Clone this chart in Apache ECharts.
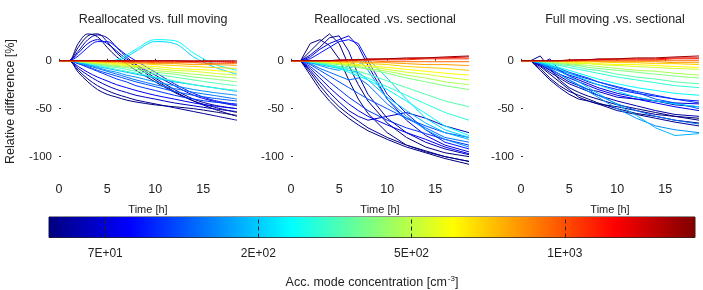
<!DOCTYPE html>
<html>
<head>
<meta charset="utf-8">
<script src="https://cdn.jsdelivr.net/npm/echarts@6/dist/echarts.min.js"></script>
<style>
  html, body { margin: 0; padding: 0; background: #fff; }
  #chart { width: 703px; height: 290px; }
</style>
</head>
<body>
<div id="chart"></div>
<script>
// time axis of every run [h]
var times = [0, 1, 2, 3, 4, 5, 6, 7, 8, 10, 12, 14, 16, 18.5];
// accumulation mode concentration of each run [cm^-3], low -> high
var conc = [38, 42, 47, 52, 58, 64, 71, 80, 90, 100, 115, 130, 150, 175,
            200, 235, 280, 330, 400, 480, 570, 680, 820, 1000, 1250, 1600, 2100, 2900];

var panelTitles = ['Reallocated vs. full moving', 'Reallocated .vs. sectional', 'Full moving .vs. sectional'];
var yTicks = [-100, -50, 0];
var xTicks = [0, 5, 10, 15];

// colorbar ticks (concentration) shown as 7E+01 ...
var cbarTicks = [70, 190, 516, 1403];
var cbarRange = [48.5, 3280];

// relative difference [%], one row per run
var reallocVsFull = [
  [0, 0, 14, 26, 28, 20, 8, 0, -6, -20, -32, -42, -50, -58],
  [0, 0, -12, -22, -30, -35, -38, -41, -43, -46, -48, -50, -53, -57],
  [0, 0, 18, 28, 25, 14, 4, -3, -10, -22, -33, -42, -48, -54],
  [0, 0, -10, -19, -26, -31, -35, -38, -41, -45, -49, -53, -57, -62],
  [0, 0, 10, 22, 27, 24, 14, 4, -4, -18, -30, -40, -46, -50],
  [0, 0, -8, -15, -21, -26, -30, -33, -36, -40, -44, -47, -50, -53],
  [0, 0, 8, 18, 22, 18, 10, 2, -4, -15, -26, -36, -42, -47],
  [0, 0, -6, -12, -17, -21, -25, -28, -31, -36, -40, -44, -47, -50],
  [0, 0, 5, 14, 20, 20, 14, 6, 0, -12, -24, -34, -41, -46],
  [0, 0, -3, -7, -11, -15, -19, -22, -26, -31, -36, -40, -43, -45],
  [0, 0, -3, -6, -10, -13, -16, -19, -22, -27, -32, -36, -39, -42],
  [0, 0, -2, -5, -8, -11, -14, -17, -20, -25, -29, -33, -36, -40],
  [0, 0, -2, -4, -7, -10, -12, -15, -17, -22, -26, -30, -33, -36],
  [0, 0, -2, -4, -6, -8, -10, -12, -14, -18, -22, -25, -28, -32],
  [0, 0, 0, 0, 0, 0, 0, 4, 10, 20, 18, 4, -6, -14],
  [0, 0, 0, 0, 0, 0, 1, 6, 12, 22, 21, 8, -3, -10],
  [0, 0, -1, -3, -5, -7, -9, -11, -13, -17, -21, -25, -28, -31],
  [0, 0, -1, -2, -4, -6, -7, -9, -11, -14, -17, -20, -23, -26],
  [0, 0, -1, -2, -3, -5, -6, -7, -9, -12, -14, -17, -19, -22],
  [0, 0, -1, -2, -3, -4, -5, -6, -7, -10, -12, -14, -16, -18],
  [0, 0, 0, -1, -2, -3, -4, -5, -6, -8, -10, -11, -13, -15],
  [0, 0, 0, -1, -2, -2, -3, -4, -5, -6, -8, -9, -10, -12],
  [0, 0, 0, -1, -1, -2, -2, -3, -3, -4, -5, -6, -7, -8],
  [0, 0, 0, 0, -1, -1, -1, -2, -2, -3, -3, -4, -4, -5],
  [0, 0, 0, 0, 0, -1, -1, -1, -1, -2, -2, -2, -3, -3],
  [0, 0, 0, 0, 0, 0, 0, -1, -1, -1, -1, -1, -1, -2],
  [0, 0, 0, 0, 0, 0, 0, 0, 0, 0, 0, -1, -1, -1],
  [0, 0, 0, 0, 0, 0, 0, 0, 0, 0, 0, 0, 0, 0]
];

var reallocVsSect = [
  [0, 0, 18, 22, 16, 2, -20, -40, -55, -75, -88, -95, -100, -105],
  [0, 0, -15, -30, -42, -52, -60, -67, -73, -82, -90, -96, -102, -108],
  [0, 0, 10, 20, 28, 18, -5, -25, -42, -65, -80, -90, -96, -100],
  [0, 0, -12, -26, -38, -48, -56, -63, -70, -80, -88, -94, -100, -105],
  [0, 0, 6, 14, 24, 26, 10, -15, -35, -60, -75, -85, -92, -98],
  [0, 0, -10, -22, -33, -43, -52, -58, -62, -58, -54, -60, -68, -75],
  [0, 0, 4, 12, 18, 22, 26, 15, -5, -40, -62, -78, -88, -95],
  [0, 0, -8, -18, -28, -37, -45, -52, -58, -67, -75, -82, -90, -97],
  [0, 0, 2, 8, 14, 20, 22, 18, 0, -35, -55, -72, -85, -92],
  [0, 0, -6, -14, -22, -30, -38, -45, -52, -62, -70, -76, -82, -88],
  [0, 0, -4, -10, -16, -22, -28, -34, -40, -50, -60, -68, -75, -80],
  [0, 0, -3, -8, -12, -16, -20, -18, -25, -45, -60, -70, -80, -85],
  [0, 0, -2, -5, -8, -10, -5, 2, -10, -40, -58, -72, -82, -90],
  [0, 0, -2, -4, -6, -8, -10, -12, -20, -38, -52, -65, -75, -82],
  [0, 0, -1, -3, -5, -6, -8, -4, 2, -18, -40, -60, -72, -80],
  [0, 0, -1, -3, -5, -8, -12, -16, -20, -30, -42, -55, -68, -78],
  [0, 0, -1, -3, -5, -7, -10, -14, -18, -27, -36, -45, -54, -62],
  [0, 0, -1, -2, -4, -6, -8, -11, -14, -21, -28, -35, -42, -48],
  [0, 0, -1, -2, -3, -4, -6, -7, -9, -13, -18, -22, -26, -30],
  [0, 0, 0, -1, -2, -3, -5, -6, -8, -11, -15, -18, -22, -25],
  [0, 0, 0, -1, -2, -3, -4, -5, -6, -9, -12, -14, -17, -20],
  [0, 0, 0, -1, -1, -2, -3, -4, -5, -7, -9, -11, -13, -15],
  [0, 0, 0, 0, -1, -1, -2, -2, -3, -4, -6, -7, -8, -10],
  [0, 0, 0, 0, 0, -1, -1, -1, -2, -2, -3, -4, -4, -5],
  [0, 0, 0, 0, 0, 0, 0, 0, 0, -1, -1, -1, -1, -1],
  [0, 0, 0, 0, 0, 0, 0, 1, 1, 1, 1, 2, 2, 2],
  [0, 0, 0, 0, 0, 0, 1, 1, 1, 2, 2, 3, 3, 4],
  [0, 0, 0, 0, 0, 1, 1, 1, 2, 2, 3, 3, 4, 5]
];

var fullVsSect = [
  [0, 0, -8, -18, -26, -32, -36, -40, -44, -50, -55, -58, -62, -65],
  [0, 0, 5, -8, -20, -28, -33, -37, -40, -46, -50, -54, -58, -60],
  [0, 0, -6, -14, -22, -30, -38, -42, -45, -48, -52, -56, -58, -62],
  [0, 0, -10, -20, -28, -35, -40, -42, -45, -52, -56, -60, -64, -68],
  [0, 0, -5, -12, -18, -24, -28, -32, -36, -42, -47, -52, -56, -58],
  [0, 0, -4, -10, -16, -22, -26, -30, -32, -38, -40, -42, -46, -48],
  [0, 0, -3, 2, -10, -16, -20, -24, -28, -34, -38, -42, -44, -45],
  [0, 0, -4, -9, -14, -18, -22, -26, -30, -36, -40, -44, -48, -52],
  [0, 0, -3, -7, -11, -15, -18, -22, -25, -30, -34, -37, -40, -42],
  [0, 0, -2, -6, -10, -13, -16, -19, -22, -27, -32, -36, -40, -44],
  [0, 0, -2, -5, -8, -12, -15, -18, -22, -28, -33, -40, -44, -50],
  [0, 0, -3, -8, -14, -20, -25, -30, -36, -45, -52, -58, -62, -66],
  [0, 0, -3, -8, -14, -20, -26, -32, -38, -50, -60, -68, -72, -75],
  [0, 0, -2, -6, -11, -16, -22, -28, -34, -46, -57, -70, -78, -76],
  [0, 0, -2, -5, -9, -13, -17, -21, -25, -32, -38, -42, -45, -48],
  [0, 0, -1, -4, -7, -10, -13, -16, -19, -24, -28, -31, -34, -36],
  [0, 0, -1, -3, -5, -7, -9, -11, -13, -17, -20, -23, -26, -28],
  [0, 0, -1, -2, -4, -5, -7, -9, -10, -14, -17, -19, -22, -24],
  [0, 0, -1, -2, -3, -4, -5, -7, -8, -10, -12, -14, -16, -18],
  [0, 0, 0, -1, -2, -3, -4, -5, -6, -8, -10, -11, -13, -15],
  [0, 0, 0, -1, -1, -2, -3, -3, -4, -5, -6, -7, -8, -9],
  [0, 0, 0, 0, -1, -1, -2, -2, -3, -4, -4, -5, -6, -7],
  [0, 0, 0, 0, 0, -1, -1, -1, -1, -2, -2, -3, -3, -4],
  [0, 0, 0, 0, 0, 0, 0, 0, -1, -1, -1, -1, -2, -2],
  [0, 0, 0, 0, 0, 0, 0, 0, 0, 0, 0, 0, 0, 0],
  [0, 0, 0, 0, 0, 0, 0, 1, 1, 1, 1, 1, 2, 2],
  [0, 0, 0, 0, 0, 0, 1, 1, 1, 2, 2, 2, 3, 3],
  [0, 0, 0, 0, 0, 1, 1, 1, 2, 2, 3, 3, 4, 5]
];

var panels = [reallocVsFull, reallocVsSect, fullVsSect];

// matlab jet colormap
function jet(f) {
  f = Math.max(0, Math.min(1, f));
  function c(v) { return Math.round(255 * Math.max(0, Math.min(1, v))); }
  var r = c(Math.min(4 * f - 1.5, -4 * f + 4.5));
  var g = c(Math.min(4 * f - 0.5, -4 * f + 3.5));
  var b = c(Math.min(4 * f + 0.5, -4 * f + 2.5));
  return 'rgb(' + r + ',' + g + ',' + b + ')';
}

var logMin = Math.log10(cbarRange[0]);
var logMax = Math.log10(cbarRange[1]);
function concColor(c) {
  return jet((Math.log10(c) - logMin) / (logMax - logMin));
}

function fmtExp(v) {
  var s = v.toExponential(0).split('e');
  var e = parseInt(s[1], 10);
  return s[0] + 'E' + (e < 0 ? '-' : '+') + (Math.abs(e) < 10 ? '0' : '') + Math.abs(e);
}

var font = 'Liberation Sans, Arial, sans-serif';
var gridLefts = [59, 291, 521];
var gridWidth = 178;

var grids = [], xAxes = [], yAxes = [], titles = [], series = [];

gridLefts.forEach(function (left, p) {
  grids.push({ left: left, top: 32, width: gridWidth, height: 139 });
  titles.push({
    text: panelTitles[p], left: left + gridWidth / 2, top: 8, textAlign: 'center',
    textStyle: { fontSize: 12.5, fontWeight: 'normal', color: '#222', fontFamily: font }
  });
  xAxes.push({
    type: 'value', gridIndex: p, min: 0, max: 18.5, interval: 5,
    name: 'Time [h]', nameLocation: 'middle', nameGap: 33,
    nameTextStyle: { fontSize: 11, color: '#222', fontFamily: font },
    axisLine: { show: false },
    axisTick: { show: true, inside: true, length: 2, customValues: xTicks, lineStyle: { color: '#333' } },
    axisLabel: { fontSize: 12.5, color: '#222', fontFamily: font, margin: 12, customValues: xTicks },
    splitLine: { show: false }
  });
  yAxes.push({
    type: 'value', gridIndex: p, min: -115, max: 30,
    name: p === 0 ? 'Relative difference [%]' : '', nameLocation: 'middle', nameGap: 42,
    nameTextStyle: { fontSize: 12.5, color: '#222', fontFamily: font },
    axisLine: { show: false },
    axisTick: { show: true, inside: true, length: 2, customValues: yTicks, lineStyle: { color: '#333' } },
    axisLabel: { fontSize: 11.5, color: '#222', fontFamily: font, margin: 7, customValues: yTicks },
    splitLine: { show: false }
  });
  panels[p].forEach(function (row, i) {
    series.push({
      type: 'line', xAxisIndex: p, yAxisIndex: p,
      data: times.map(function (t, k) { return [t, row[k]]; }),
      symbol: 'none', smooth: p === 0 ? 0.35 : false, silent: true,
      lineStyle: { width: 1, color: concColor(conc[i]) }
    });
  });
});

// colorbar
var stops = [];
for (var s = 0; s <= 64; s++) stops.push({ offset: s / 64, color: jet(s / 64) });

grids.push({ left: 49, top: 217, width: 646, height: 21, show: true, borderColor: '#222', borderWidth: 1 });
xAxes.push({
  type: 'value', gridIndex: 3, min: logMin, max: logMax, z: 10,
  name: 'Acc. mode concentration [cm{sup|-3}]', nameLocation: 'middle', nameGap: 37,
  nameTextStyle: { fontSize: 12.5, color: '#222', fontFamily: font,
    rich: { sup: { fontSize: 8, verticalAlign: 'top', padding: [0, 0, 8, 1], color: '#222', fontFamily: font } } },
  axisLine: { show: false },
  axisTick: { show: true, inside: true, length: 21,
    customValues: cbarTicks.map(function (v) { return Math.log10(v); }),
    lineStyle: { color: '#222', type: [4, 3], width: 1 } },
  axisLabel: { fontSize: 12, color: '#222', fontFamily: font, margin: 10,
    customValues: cbarTicks.map(function (v) { return Math.log10(v); }),
    formatter: function (v) { return fmtExp(Math.pow(10, v)); } },
  splitLine: { show: false }
});
yAxes.push({ type: 'value', gridIndex: 3, min: 0, max: 1, show: false });
series.push({
  type: 'line', xAxisIndex: 3, yAxisIndex: 3, z: 0, zlevel: 0,
  data: [[logMin, 1], [logMax, 1]],
  symbol: 'none', silent: true,
  lineStyle: { width: 0, opacity: 0 },
  areaStyle: { opacity: 1, color: new echarts.graphic.LinearGradient(0, 0, 1, 0, stops) }
});

var myChart = echarts.init(document.getElementById('chart'));
myChart.setOption({
  backgroundColor: '#fff',
  animation: false,
  textStyle: { fontFamily: font },
  title: titles,
  grid: grids,
  xAxis: xAxes,
  yAxis: yAxes,
  series: series
});
</script>
</body>
</html>
